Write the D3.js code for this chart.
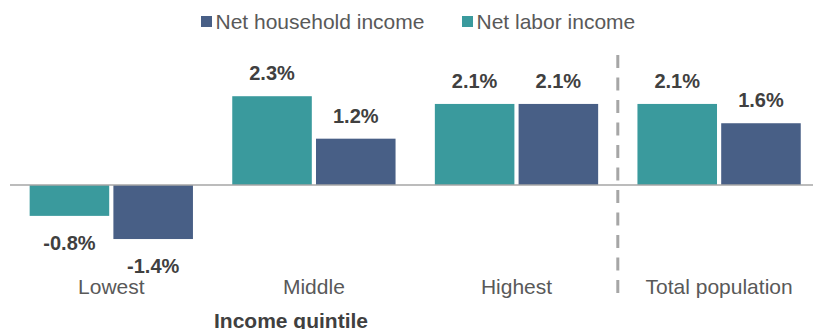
<!DOCTYPE html>
<html>
<head>
<meta charset="utf-8">
<script src="https://cdn.jsdelivr.net/npm/d3@7"></script>
<style>
  html, body { margin: 0; padding: 0; background: #ffffff; }
  svg { display: block; font-family: "Liberation Sans", Arial, sans-serif; }
</style>
</head>
<body>
<svg id="chart" width="813" height="329"></svg>
<script>
// Income groups along the x axis
const categories = ["Lowest", "Middle", "Highest", "Total population"];
// Series, in bar order within each group
const seriesNames = ["Net labor income", "Net household income"];
const laborIncome = [-0.8, 2.3, 2.1, 2.1];
const householdIncome = [-1.4, 1.2, 2.1, 1.6];
// Legend order
const legendOrder = ["Net household income", "Net labor income"];
const xAxisTitle = "Income quintile";

const colors = { "Net labor income": "#3A9A9D", "Net household income": "#485F86" };
const valuesBySeries = { "Net labor income": laborIncome, "Net household income": householdIncome };

const svg = d3.select("#chart");
const W = 813;

const zeroY = 185;
const pxPerUnit = 38.6;
const y = d3.scaleLinear()
  .domain([-1.5, 2.5])
  .range([zeroY + 1.5 * pxPerUnit, zeroY - 2.5 * pxPerUnit]);

const x0 = d3.scaleBand()
  .domain(categories)
  .range([10, 820.4])
  .paddingInner(0.194)
  .paddingOuter(0.097);

const x1 = d3.scaleBand()
  .domain(seriesNames)
  .range([0, x0.bandwidth()])
  .paddingInner(0.05);

const rows = categories.map((c, i) => ({
  category: c,
  bars: seriesNames.map(s => ({ series: s, value: valuesBySeries[s][i] }))
}));

// Percent label with a plain hyphen for negatives
const fmt = v => d3.format(".1f")(v).replace("\u2212", "-") + "%";

// Bars
const groups = svg.append("g").selectAll("g")
  .data(rows)
  .join("g")
  .attr("transform", d => `translate(${x0(d.category)},0)`);

groups.selectAll("rect")
  .data(d => d.bars)
  .join("rect")
  .attr("x", d => x1(d.series))
  .attr("width", x1.bandwidth())
  .attr("y", d => y(Math.max(0, d.value)))
  .attr("height", d => Math.abs(y(d.value) - y(0)))
  .attr("fill", d => colors[d.series]);

// Value labels
groups.selectAll("text")
  .data(d => d.bars)
  .join("text")
  .attr("x", d => x1(d.series) + x1.bandwidth() / 2)
  .attr("y", d => d.value >= 0 ? y(d.value) - 16 : y(d.value) + 34)
  .attr("text-anchor", "middle")
  .attr("font-size", 20)
  .attr("font-weight", "bold")
  .attr("fill", "#404040")
  .text(d => fmt(d.value));

// Zero line
svg.append("line")
  .attr("x1", 10).attr("x2", W)
  .attr("y1", y(0)).attr("y2", y(0))
  .attr("stroke", "#A6A6A6")
  .attr("stroke-width", 1.5);

// Divider before the total
const divX = x0("Total population") - x0.step() * x0.paddingInner() / 2;
svg.append("line")
  .attr("x1", divX).attr("x2", divX)
  .attr("y1", 55).attr("y2", 293)
  .attr("stroke", "#A6A6A6")
  .attr("stroke-width", 3)
  .attr("stroke-dasharray", "13,9.5");

// Category labels
const xAxis = d3.axisBottom(x0).tickSize(0).tickPadding(0);
const axisG = svg.append("g")
  .attr("transform", "translate(0,279)")
  .call(xAxis);
axisG.select(".domain").remove();
axisG.selectAll("text")
  .attr("font-size", 21)
  .attr("font-family", "Liberation Sans, Arial, sans-serif")
  .attr("fill", "#595959")
  .attr("dy", 0)
  .attr("y", 15);

// Axis title
svg.append("text")
  .attr("x", 291)
  .attr("y", 328)
  .attr("text-anchor", "middle")
  .attr("font-size", 21)
  .attr("font-weight", "bold")
  .attr("fill", "#404040")
  .text(xAxisTitle);

// Legend
const legendPos = [{ sx: 201, tx: 215.5 }, { sx: 462, tx: 476.5 }];
const legend = svg.append("g");
legendOrder.forEach((name, i) => {
  legend.append("rect")
    .attr("x", legendPos[i].sx).attr("y", 16)
    .attr("width", 11).attr("height", 11)
    .attr("fill", colors[name]);
  legend.append("text")
    .attr("x", legendPos[i].tx).attr("y", 28.5)
    .attr("font-size", 21)
    .attr("fill", "#595959")
    .text(name);
});
</script>
</body>
</html>
